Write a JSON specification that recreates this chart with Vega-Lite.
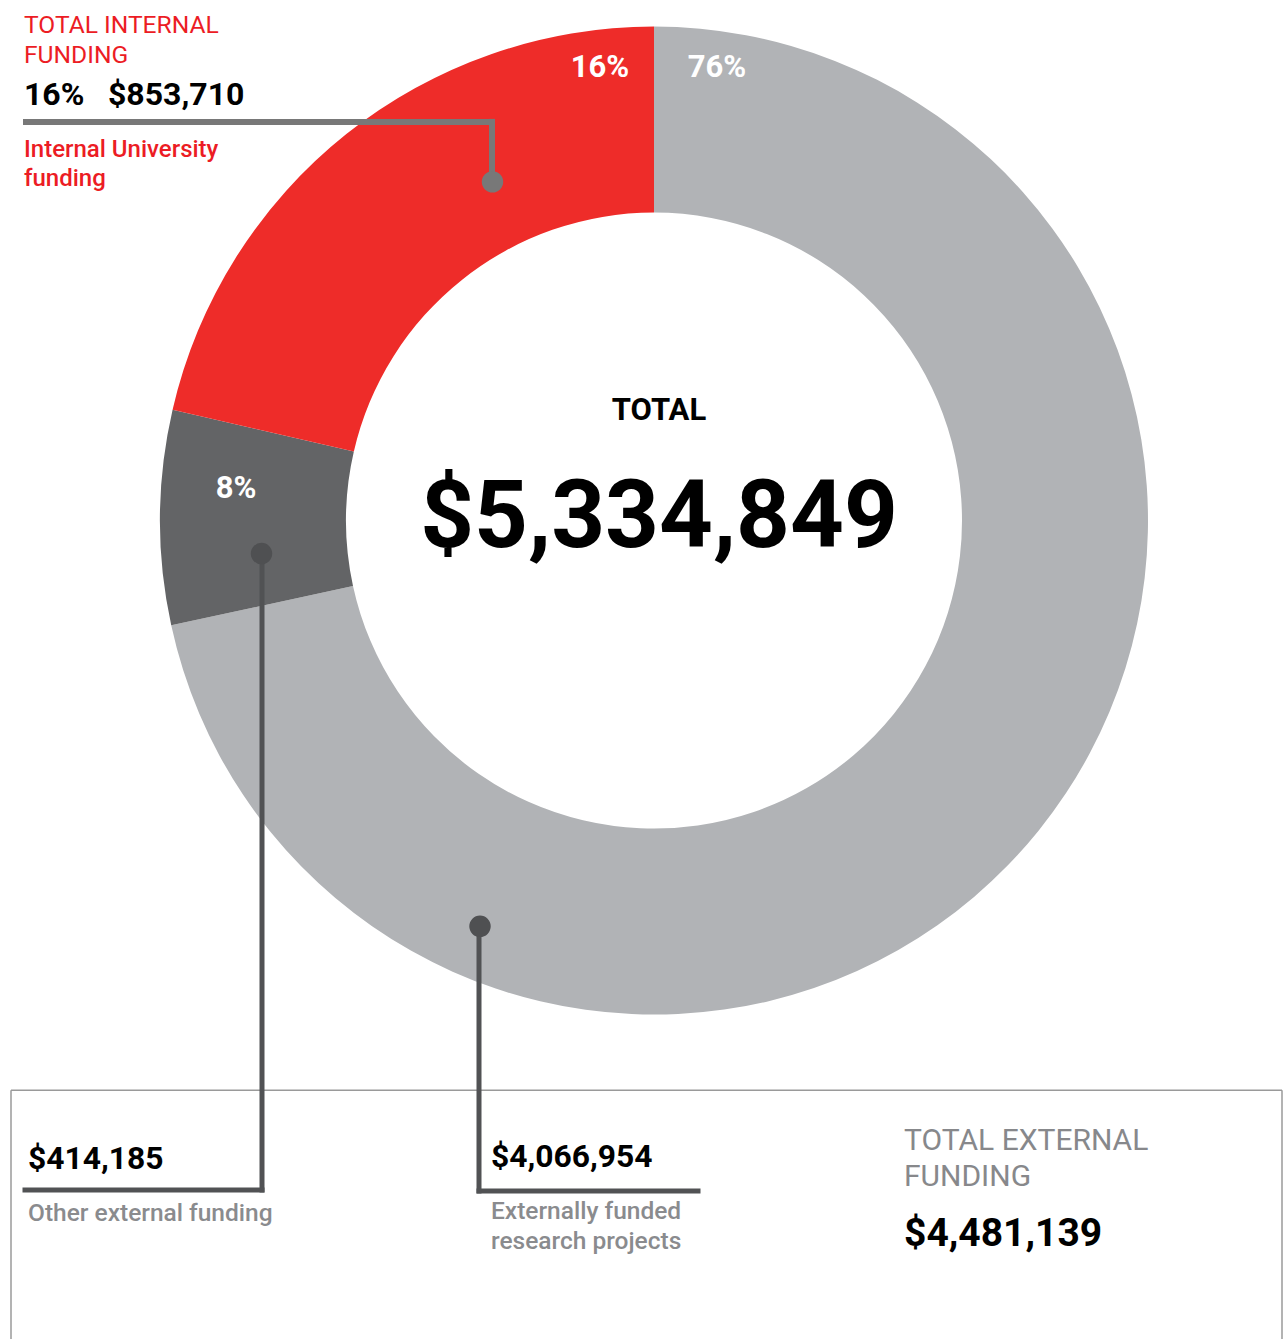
{
  "$schema": "https://vega.github.io/schema/vega-lite/v6.json",
  "width": 1284,
  "height": 1340,
  "autosize": {"type": "fit", "contains": "padding"},
  "padding": 0,
  "background": "white",
  "config": {"view": {"stroke": null}, "text": {"font": "Roboto"}},
  "datasets": {
    "segments": [
      {"segment": "Externally funded research projects", "amount": 4066954, "share_label": "76%", "drawn_share": 71.6, "rank": 1},
      {"segment": "Other external funding", "amount": 414185, "share_label": "8%", "drawn_share": 7.0, "rank": 2},
      {"segment": "Internal University funding", "amount": 853710, "share_label": "16%", "drawn_share": 21.4, "rank": 3}
    ],
    "connectors": [
      {"link": "internal", "px": 26, "py": 122, "px2": 492, "py2": 122},
      {"link": "internal", "px": 492, "py": 122, "px2": 492, "py2": 182},
      {"link": "other", "px": 262, "py": 554, "px2": 262, "py2": 1191},
      {"link": "other", "px": 25, "py": 1191, "px2": 262, "py2": 1191},
      {"link": "research", "px": 479, "py": 927, "px2": 479, "py2": 1192},
      {"link": "research", "px": 479, "py": 1192, "px2": 698, "py2": 1192}
    ],
    "dots": [
      {"link": "internal", "px": 492.5, "py": 182},
      {"link": "other", "px": 261.5, "py": 554},
      {"link": "research", "px": 480, "py": 927}
    ],
    "frame": [
      {"side": "left", "px": 11, "py": 1091, "px2": 11, "py2": 1340},
      {"side": "top", "px": 11, "py": 1091, "px2": 1282, "py2": 1091},
      {"side": "right", "px": 1282, "py": 1091, "px2": 1282, "py2": 1340}
    ],
    "labels": [
      {"role": "internal_heading", "text": "TOTAL INTERNAL", "px": 24, "py": 33},
      {"role": "internal_heading", "text": "FUNDING", "px": 24, "py": 63},
      {"role": "internal_value", "text": "16%", "px": 24, "py": 105},
      {"role": "internal_value", "text": "$853,710", "px": 108, "py": 105},
      {"role": "internal_caption", "text": "Internal University", "px": 24, "py": 157},
      {"role": "internal_caption", "text": "funding", "px": 24, "py": 186},
      {"role": "share", "text": "16%", "px": 600, "py": 77},
      {"role": "share", "text": "76%", "px": 717, "py": 77},
      {"role": "share", "text": "8%", "px": 236, "py": 498},
      {"role": "total_label", "text": "TOTAL", "px": 659, "py": 420},
      {"role": "total_value", "text": "$5,334,849", "px": 659, "py": 547},
      {"role": "ext_value", "text": "$414,185", "px": 28, "py": 1170},
      {"role": "ext_value", "text": "$4,066,954", "px": 491, "py": 1168},
      {"role": "ext_caption", "text": "Other external funding", "px": 28, "py": 1222},
      {"role": "ext_caption", "text": "Externally funded", "px": 491, "py": 1220},
      {"role": "ext_caption", "text": "research projects", "px": 491, "py": 1250},
      {"role": "ext_heading", "text": "TOTAL EXTERNAL", "px": 904, "py": 1151},
      {"role": "ext_heading", "text": "FUNDING", "px": 904, "py": 1187},
      {"role": "ext_total", "text": "$4,481,139", "px": 904, "py": 1247}
    ]
  },
  "layer": [
    {
      "data": {"name": "segments"},
      "mark": {"type": "arc", "outerRadius": 494, "innerRadius": 308},
      "encoding": {
        "x": {"datum": 654, "type": "quantitative", "scale": {"domain": [0, 1284], "nice": false, "zero": false}, "axis": null},
        "y": {"datum": 521, "type": "quantitative", "scale": {"domain": [0, 1340], "nice": false, "zero": false, "reverse": true}, "axis": null},
        "theta": {"field": "drawn_share", "type": "quantitative", "stack": true},
        "order": {"field": "rank", "type": "quantitative"},
        "color": {
          "field": "segment", "type": "nominal", "legend": null,
          "scale": {
            "domain": ["Externally funded research projects", "Other external funding", "Internal University funding"],
            "range": ["#b1b3b6", "#636466", "#ee2c29"]
          }
        }
      }
    },
    {
      "data": {"name": "frame"},
      "mark": {"type": "rule", "color": "#9a9a9a", "strokeWidth": 1.5},
      "encoding": {
        "x": {"field": "px", "type": "quantitative", "scale": {"domain": [0, 1284], "nice": false, "zero": false}, "axis": null},
        "y": {"field": "py", "type": "quantitative", "scale": {"domain": [0, 1340], "nice": false, "zero": false, "reverse": true}, "axis": null},
        "x2": {"field": "px2"},
        "y2": {"field": "py2"}
      }
    },
    {
      "data": {"name": "connectors"},
      "transform": [{"filter": "datum.link === 'internal'"}],
      "mark": {"type": "rule", "color": "#787878", "strokeWidth": 6, "strokeCap": "square"},
      "encoding": {
        "x": {"field": "px", "type": "quantitative", "scale": {"domain": [0, 1284], "nice": false, "zero": false}, "axis": null},
        "y": {"field": "py", "type": "quantitative", "scale": {"domain": [0, 1340], "nice": false, "zero": false, "reverse": true}, "axis": null},
        "x2": {"field": "px2"},
        "y2": {"field": "py2"}
      }
    },
    {
      "data": {"name": "connectors"},
      "transform": [{"filter": "datum.link !== 'internal'"}],
      "mark": {"type": "rule", "color": "#515254", "strokeWidth": 5, "strokeCap": "square"},
      "encoding": {
        "x": {"field": "px", "type": "quantitative", "scale": {"domain": [0, 1284], "nice": false, "zero": false}, "axis": null},
        "y": {"field": "py", "type": "quantitative", "scale": {"domain": [0, 1340], "nice": false, "zero": false, "reverse": true}, "axis": null},
        "x2": {"field": "px2"},
        "y2": {"field": "py2"}
      }
    },
    {
      "data": {"name": "dots"},
      "transform": [{"filter": "datum.link === 'internal'"}],
      "mark": {"type": "circle", "color": "#787878", "opacity": 1, "size": 460},
      "encoding": {
        "x": {"field": "px", "type": "quantitative", "scale": {"domain": [0, 1284], "nice": false, "zero": false}, "axis": null},
        "y": {"field": "py", "type": "quantitative", "scale": {"domain": [0, 1340], "nice": false, "zero": false, "reverse": true}, "axis": null}
      }
    },
    {
      "data": {"name": "dots"},
      "transform": [{"filter": "datum.link !== 'internal'"}],
      "mark": {"type": "circle", "color": "#4f5052", "opacity": 1, "size": 460},
      "encoding": {
        "x": {"field": "px", "type": "quantitative", "scale": {"domain": [0, 1284], "nice": false, "zero": false}, "axis": null},
        "y": {"field": "py", "type": "quantitative", "scale": {"domain": [0, 1340], "nice": false, "zero": false, "reverse": true}, "axis": null}
      }
    },
    {
      "data": {"name": "labels"},
      "transform": [{"filter": "datum.role === 'internal_heading'"}],
      "mark": {"type": "text", "font": "Roboto", "fontSize": 24.6, "fontWeight": 400, "color": "#ec1c24", "align": "left", "baseline": "alphabetic"},
      "encoding": {
        "x": {"field": "px", "type": "quantitative", "scale": {"domain": [0, 1284], "nice": false, "zero": false}, "axis": null},
        "y": {"field": "py", "type": "quantitative", "scale": {"domain": [0, 1340], "nice": false, "zero": false, "reverse": true}, "axis": null},
        "text": {"field": "text"}
      }
    },
    {
      "data": {"name": "labels"},
      "transform": [{"filter": "datum.role === 'internal_value'"}],
      "mark": {"type": "text", "font": "Roboto", "fontSize": 32, "fontWeight": 700, "color": "#000000", "align": "left", "baseline": "alphabetic"},
      "encoding": {
        "x": {"field": "px", "type": "quantitative", "scale": {"domain": [0, 1284], "nice": false, "zero": false}, "axis": null},
        "y": {"field": "py", "type": "quantitative", "scale": {"domain": [0, 1340], "nice": false, "zero": false, "reverse": true}, "axis": null},
        "text": {"field": "text"}
      }
    },
    {
      "data": {"name": "labels"},
      "transform": [{"filter": "datum.role === 'internal_caption'"}],
      "mark": {"type": "text", "font": "Roboto", "fontSize": 24, "fontWeight": 500, "color": "#ec1c24", "align": "left", "baseline": "alphabetic"},
      "encoding": {
        "x": {"field": "px", "type": "quantitative", "scale": {"domain": [0, 1284], "nice": false, "zero": false}, "axis": null},
        "y": {"field": "py", "type": "quantitative", "scale": {"domain": [0, 1340], "nice": false, "zero": false, "reverse": true}, "axis": null},
        "text": {"field": "text"}
      }
    },
    {
      "data": {"name": "labels"},
      "transform": [{"filter": "datum.role === 'share'"}],
      "mark": {"type": "text", "font": "Roboto", "fontSize": 31, "fontWeight": 700, "color": "#ffffff", "align": "center", "baseline": "alphabetic"},
      "encoding": {
        "x": {"field": "px", "type": "quantitative", "scale": {"domain": [0, 1284], "nice": false, "zero": false}, "axis": null},
        "y": {"field": "py", "type": "quantitative", "scale": {"domain": [0, 1340], "nice": false, "zero": false, "reverse": true}, "axis": null},
        "text": {"field": "text"}
      }
    },
    {
      "data": {"name": "labels"},
      "transform": [{"filter": "datum.role === 'total_label'"}],
      "mark": {"type": "text", "font": "Roboto", "fontSize": 31, "fontWeight": 700, "color": "#000000", "align": "center", "baseline": "alphabetic"},
      "encoding": {
        "x": {"field": "px", "type": "quantitative", "scale": {"domain": [0, 1284], "nice": false, "zero": false}, "axis": null},
        "y": {"field": "py", "type": "quantitative", "scale": {"domain": [0, 1340], "nice": false, "zero": false, "reverse": true}, "axis": null},
        "text": {"field": "text"}
      }
    },
    {
      "data": {"name": "labels"},
      "transform": [{"filter": "datum.role === 'total_value'"}],
      "mark": {"type": "text", "font": "Roboto", "fontSize": 94, "fontWeight": 700, "color": "#000000", "align": "center", "baseline": "alphabetic"},
      "encoding": {
        "x": {"field": "px", "type": "quantitative", "scale": {"domain": [0, 1284], "nice": false, "zero": false}, "axis": null},
        "y": {"field": "py", "type": "quantitative", "scale": {"domain": [0, 1340], "nice": false, "zero": false, "reverse": true}, "axis": null},
        "text": {"field": "text"}
      }
    },
    {
      "data": {"name": "labels"},
      "transform": [{"filter": "datum.role === 'ext_value'"}],
      "mark": {"type": "text", "font": "Roboto", "fontSize": 31.8, "fontWeight": 700, "color": "#000000", "align": "left", "baseline": "alphabetic"},
      "encoding": {
        "x": {"field": "px", "type": "quantitative", "scale": {"domain": [0, 1284], "nice": false, "zero": false}, "axis": null},
        "y": {"field": "py", "type": "quantitative", "scale": {"domain": [0, 1340], "nice": false, "zero": false, "reverse": true}, "axis": null},
        "text": {"field": "text"}
      }
    },
    {
      "data": {"name": "labels"},
      "transform": [{"filter": "datum.role === 'ext_caption'"}],
      "mark": {"type": "text", "font": "Roboto", "fontSize": 24.5, "fontWeight": 500, "color": "#8a8b8e", "align": "left", "baseline": "alphabetic"},
      "encoding": {
        "x": {"field": "px", "type": "quantitative", "scale": {"domain": [0, 1284], "nice": false, "zero": false}, "axis": null},
        "y": {"field": "py", "type": "quantitative", "scale": {"domain": [0, 1340], "nice": false, "zero": false, "reverse": true}, "axis": null},
        "text": {"field": "text"}
      }
    },
    {
      "data": {"name": "labels"},
      "transform": [{"filter": "datum.role === 'ext_heading'"}],
      "mark": {"type": "text", "font": "Roboto", "fontSize": 30, "fontWeight": 400, "color": "#87888b", "align": "left", "baseline": "alphabetic"},
      "encoding": {
        "x": {"field": "px", "type": "quantitative", "scale": {"domain": [0, 1284], "nice": false, "zero": false}, "axis": null},
        "y": {"field": "py", "type": "quantitative", "scale": {"domain": [0, 1340], "nice": false, "zero": false, "reverse": true}, "axis": null},
        "text": {"field": "text"}
      }
    },
    {
      "data": {"name": "labels"},
      "transform": [{"filter": "datum.role === 'ext_total'"}],
      "mark": {"type": "text", "font": "Roboto", "fontSize": 39, "fontWeight": 700, "color": "#000000", "align": "left", "baseline": "alphabetic"},
      "encoding": {
        "x": {"field": "px", "type": "quantitative", "scale": {"domain": [0, 1284], "nice": false, "zero": false}, "axis": null},
        "y": {"field": "py", "type": "quantitative", "scale": {"domain": [0, 1340], "nice": false, "zero": false, "reverse": true}, "axis": null},
        "text": {"field": "text"}
      }
    }
  ]
}
